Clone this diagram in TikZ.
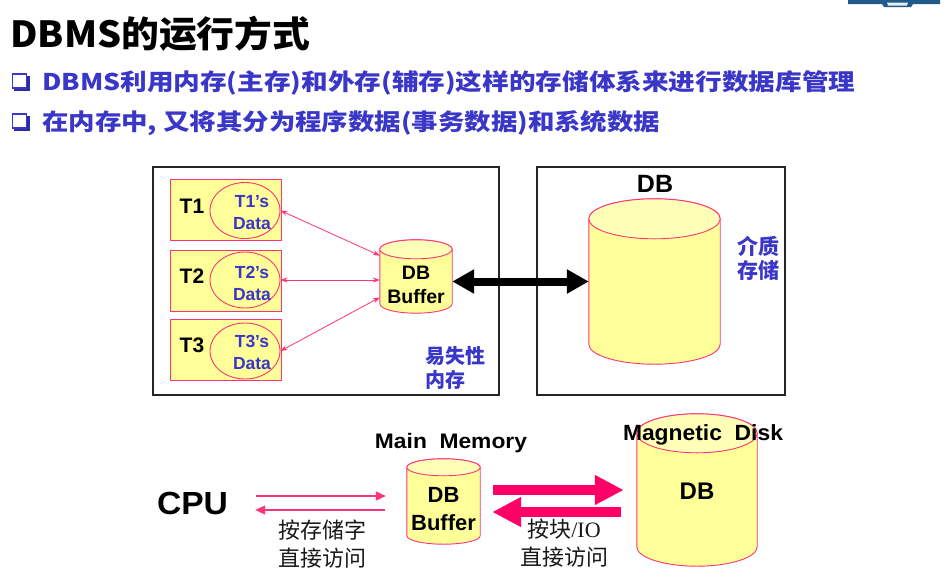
\documentclass[tikz,border=0pt]{standalone}
\usepackage{fontspec}
\setmainfont{Liberation Sans}
\newfontfamily\cjk{Noto Sans CJK SC}
\newfontfamily\serifL{Liberation Serif}
\usepackage{graphicx}
\usetikzlibrary{arrows.meta,calc,shapes.geometric}
\definecolor{tblue}{HTML}{3A36C8}
\definecolor{pk}{HTML}{FF3377}
\definecolor{hot}{HTML}{FF0066}
\definecolor{yel}{HTML}{FFFF99}
\definecolor{yeltop}{HTML}{FFFFB8}
\definecolor{logoblue}{HTML}{1F5A8A}
\newcommand\fitw[2]{\resizebox{#1}{\height}{#2}}
\newcommand\fs[2]{\fontsize{#1}{#2}\selectfont}
\pgfdeclarelayer{paper}
\pgfdeclarelayer{bg}
\pgfsetlayers{paper,bg,main}
\newcommand\drawcyl[2]{%
 \begin{pgfonlayer}{bg}
 \path[cylbody] let \p1=(#1.north west), \p2=(#1.south east), \n1={(\x2-\x1)/2} in
   (\x1,\y1-#2pt) -- (\x1,\y2+#2pt) arc[start angle=180,end angle=360,x radius=\n1,y radius=#2pt]
   -- (\x2,\y1-#2pt) arc[start angle=0,end angle=180,x radius=\n1,y radius=#2pt] -- cycle;
 \path[cyltop] let \p1=(#1.north west), \p2=(#1.south east), \n1={(\x2-\x1)/2} in
   (\x1+\n1,\y1-#2pt) ellipse[x radius=\n1,y radius=#2pt];
 \end{pgfonlayer}}
\tikzset{
  frame/.style={draw=black!85, line width=1.3pt, inner sep=0},
  tbox/.style={draw=pk, fill=yel, line width=1pt, minimum width=111pt, minimum height=61pt, inner sep=0},
  tell/.style={ellipse, draw=pk, line width=0.9pt, minimum width=70pt, minimum height=56pt, inner sep=0},
  cylnode/.style={inner sep=0},
  cylbody/.style={draw=pk, fill=yel, line width=0.9pt},
  cyltop/.style={draw=pk, fill=yeltop, line width=0.9pt},
  tlab/.style={font=\bfseries\fs{21}{21}, text=black, inner sep=0},
  dlab/.style={font=\bfseries\fs{17.5}{22}, text=tblue, align=center, inner sep=0},
  cnlab/.style={font=\cjk\bfseries\fs{20}{24}, text=tblue, align=left, inner sep=0, anchor=west},
  tarr/.style={draw=pk, line width=0.8pt, {Stealth[length=7pt,width=5pt]}-{Stealth[length=7pt,width=5pt]}},
  parr/.style={draw=pk, line width=1.1pt, -{Triangle[length=10pt,width=9pt]}},
  harr/.style={draw=hot, line width=10pt, -{Triangle[length=29pt,width=28pt]}},
  blab/.style={font=\bfseries, inner sep=0},
  slab/.style={font=\cjk\fs{22}{28}, align=center, inner sep=0, text=black!90},
  bsq/.style={draw=tblue, line width=1.5pt, fill=white}
}
\begin{document}
\begin{tikzpicture}[x=1pt,y=1pt]
\useasboundingbox (0,0) rectangle (951,-582);
\begin{pgfonlayer}{paper}
\fill[white] (0,0) rectangle (951,-582);
\end{pgfonlayer}
% logo fragment
\fill[logoblue] (848,0) -- (940,0) -- (940,-4) -- (913,-4) -- (911,-7) -- (884,-7) -- (882,-4) -- (848,-4) -- cycle;
\fill[white!85!gray] (887,-2.5) -- (908,-2.5) -- (907,-5.5) -- (888,-5.5) -- cycle;
% title
\node[anchor=base west, inner sep=0, font=\cjk\bfseries\fs{36}{36}] (title) at (10,-47) {\fitw{300pt}{DBMS的运行方式}};
% bullets
\fill[tblue!80!black] (14,-76) rectangle (29.5,-91);
\node[bsq, minimum width=14pt, minimum height=14pt, inner sep=0] (b1) at (19.5,-81) {};
\fill[tblue!80!black] (14,-116) rectangle (29.5,-131);
\node[bsq, minimum width=14pt, minimum height=14pt, inner sep=0] (b2) at (19.5,-121) {};
\node[anchor=base west, inner sep=0, text=tblue, font=\cjk\bfseries\fs{23}{23}] (l1) at (42,-90)
  {\fitw{813pt}{DBMS利用内存(主存)和外存(辅存)这样的存储体系来进行数据库管理}};
\node[anchor=base west, inner sep=0, text=tblue, font=\cjk\bfseries\fs{23}{23}] (l2) at (42,-130)
  {\fitw{618pt}{在内存中, 又将其分为程序数据(事务数据)和系统数据}};
% top diagram frames
\node[frame, minimum width=346pt, minimum height=228pt] (mem) at (326,-281) {};
\node[frame, minimum width=248pt, minimum height=228pt] (disk) at (661,-281) {};
% transactions
\node[tbox] (t1) at (225.5,-209.5) {};
\node[tbox] (t2) at (225.5,-280.5) {};
\node[tbox] (t3) at (225.5,-349.5) {};
\node[tell] (e1) at (245,-210.5) {};
\node[tell] (e2) at (245,-280) {};
\node[tell] (e3) at (245,-351) {};
\node[tlab] (t1l) at (192,-206) {T1};
\node[tlab] (t2l) at (192,-276) {T2};
\node[tlab] (t3l) at (192,-345) {T3};
\node[dlab] (d1) at (252,-213) {T1’s\\Data};
\node[dlab] (d2) at (252,-283) {T2’s\\Data};
\node[dlab] (d3) at (252,-352) {T3’s\\Data};
% buffer
\node[cylnode, minimum width=72pt, minimum height=73pt] (buf) at (416,-276.5) {};
\drawcyl{buf}{9.5}
\node[align=center, inner sep=0, font=\bfseries\fs{19.5}{24}] (bufl) at (416,-285) {DB\\Buffer};
% DB cylinder
\node[cylnode, minimum width=131pt, minimum height=165pt] (db) at (654.5,-281.5) {};
\drawcyl{db}{20}
\node[blab, font=\bfseries\fs{25}{25}] (dbl) at (655,-184) {DB};
% arrows
\draw[tarr] (e1.east) -- (buf.150);
\draw[tarr] (e2.east) -- (e2.east -| buf.west);
\draw[tarr] (e3.east) -- (buf.210);
\draw[line width=8pt, {Triangle[length=22pt,width=23pt]}-{Triangle[length=22pt,width=23pt]}] (buf.east |- db.west) -- (db.west);
\node[cnlab] (vol) at (425,-368) {易失性\\内存};
\node[cnlab, font=\cjk\bfseries\fs{21}{24}] (med) at (737,-258) {介质\\存储};
% bottom diagram
\node[blab, font=\bfseries\fs{32}{32}] (cpu) at (192.5,-503.5) {\fitw{71pt}{CPU}};
\node[blab, font=\bfseries\fs{21}{21}] (mm) at (451,-443) {\fitw{152pt}{Main\ \ Memory}};
\node[cylnode, minimum width=73pt, minimum height=85pt] (buf2) at (443.5,-501.5) {};
\drawcyl{buf2}{8.5}
\node[align=center, inner sep=0, font=\bfseries\fs{22}{28}] (buf2l) at (443.5,-509) {DB\\Buffer};
\node[cylnode, minimum width=120pt, minimum height=152pt] (md) at (697,-490) {};
\drawcyl{md}{19.5}
\node[blab, font=\bfseries\fs{22}{22}] (mdl) at (703,-435) {\fitw{160pt}{Magnetic\ \ Disk}};
\node[blab, font=\bfseries\fs{24}{24}] (mddb) at (697,-491) {DB};
\draw[parr] ($(cpu.east)+(28,7.5)$) -- ($(buf2.west)+(-21,5.5)$);
\draw[parr] ($(buf2.west)+(-22,-8.5)$) -- ($(cpu.east)+(27,-6.5)$);
\draw[harr] ($(buf2.east)+(13,11.5)$) -- ($(md.west)+(-13,0)$);
\draw[harr] ($(md.west)+(-16,-22)$) -- ($(buf2.east)+(12,-10.5)$);
\node[slab] (acc1) at (322,-544) {按存储字\\直接访问};
\node[slab] (acc2) at (564,-543) {按块{\serifL /IO}\\直接访问};
\end{tikzpicture}
\end{document}
